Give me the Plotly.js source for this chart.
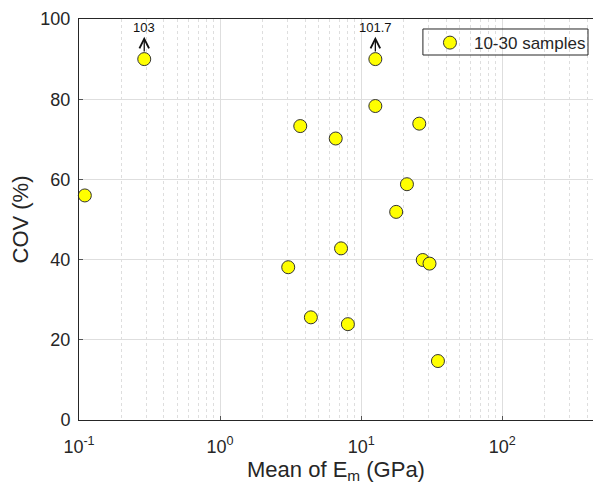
<!DOCTYPE html>
<html>
<head>
<meta charset="utf-8">
<script src="https://cdn.plot.ly/plotly-3.0.1.min.js"></script>
<style>
  html, body { margin: 0; padding: 0; background: #ffffff; }
  #chart { width: 593px; height: 492px; }
</style>
</head>
<body>
<div id="chart"></div>
<script>
// Mean deformation modulus (GPa) and its coefficient of variation (%)
const meanEm = [0.11, 0.29, 3.7, 6.6, 12.6, 12.6, 25.8, 21.1, 17.7, 7.2, 3.04, 27.3, 30.5, 4.4, 8.05, 35.0];
const covPct = [56, 90, 73.3, 70.2, 90, 78.3, 73.9, 58.8, 51.9, 42.8, 38.1, 39.9, 39.0, 25.6, 23.9, 14.7];

// Points whose true COV lies above the axis; they are plotted at the cap
const offEm = [0.29, 12.6];
const offCap = [90, 90];
const offTrue = ['103', '101.7'];

// Axis ticks
const xTickVals = [0.1, 1, 10, 100];
const xTickText = ['10<sup>-1</sup>', '10<sup>0</sup>', '10<sup>1</sup>', '10<sup>2</sup>'];
const xMinorVals = [0.2, 0.3, 0.4, 0.5, 0.6, 0.7, 0.8, 0.9,
                    2, 3, 4, 5, 6, 7, 8, 9,
                    20, 30, 40, 50, 60, 70, 80, 90,
                    200, 300, 400];
const yTickVals = [0, 20, 40, 60, 80, 100];

const ink = '#262626';
const gridCol = '#dedede';
const fontFam = 'Liberation Sans, Arial, sans-serif';

const trace = {
  x: meanEm,
  y: covPct,
  type: 'scatter',
  mode: 'markers',
  name: '10-30 samples',
  marker: { color: '#ffff00', size: 13, line: { color: '#333333', width: 1 } },
  cliponaxis: false
};

const annotations = [];
offEm.forEach((xv, i) => {
  const lx = Math.log10(xv);
  annotations.push({
    x: lx, y: 95.6, xref: 'x', yref: 'y',
    ax: lx, ay: offCap[i], axref: 'x', ayref: 'y',
    text: '', showarrow: true,
    arrowhead: 5, arrowsize: 1.45, arrowwidth: 1.3, arrowcolor: '#111111',
    startstandoff: 6
  });
  annotations.push({
    x: lx, y: 97.9, xref: 'x', yref: 'y',
    text: offTrue[i], showarrow: false,
    font: { family: fontFam, size: 13, color: '#111111' }
  });
});

const layout = {
  width: 593,
  height: 492,
  margin: { l: 79, r: 0, t: 19, b: 72 },
  paper_bgcolor: '#ffffff',
  plot_bgcolor: '#ffffff',
  font: { family: fontFam, color: ink },
  showlegend: true,
  legend: {
    x: 0.675, xanchor: 'left', y: 0.940, yanchor: 'middle',
    bgcolor: 'rgba(0,0,0,0)', borderwidth: 0,
    itemwidth: 38,
    font: { size: 17, color: ink }
  },
  // frame around the legend entry
  shapes: [{
    type: 'rect', xref: 'paper', yref: 'paper',
    x0: 0.6691, x1: 0.9903, y0: 0.9102, y1: 0.9751,
    line: { color: ink, width: 1 }, fillcolor: 'rgba(0,0,0,0)', layer: 'above'
  }],
  xaxis: {
    type: 'log',
    range: [-1, 2.643],
    tickmode: 'array',
    tickvals: xTickVals,
    ticktext: xTickText,
    tickfont: { size: 18, color: ink },
    ticks: 'inside', ticklen: 4, tickcolor: '#555555',
    ticklabelstandoff: 10,
    showline: true, linecolor: ink, linewidth: 1, mirror: true,
    showgrid: true, gridcolor: gridCol, gridwidth: 1,
    zeroline: false,
    minor: {
      tickmode: 'array', tickvals: xMinorVals,
      showgrid: true, gridcolor: gridCol, griddash: 'dot', gridwidth: 1,
      ticks: ''
    },
    title: { text: 'Mean of E<sub>m</sub> (GPa)', font: { size: 22, color: ink }, standoff: 5 }
  },
  yaxis: {
    range: [0, 100],
    tickmode: 'array',
    tickvals: yTickVals,
    tickfont: { size: 18, color: ink },
    ticks: 'inside', ticklen: 4, tickcolor: '#555555',
    ticklabelstandoff: 4,
    showline: true, linecolor: ink, linewidth: 1, mirror: true,
    showgrid: true, gridcolor: gridCol, gridwidth: 1,
    zeroline: false,
    title: { text: 'COV (%)', font: { size: 22, color: ink }, standoff: 5 }
  },
  annotations: annotations
};

Plotly.newPlot('chart', [trace], layout, { displayModeBar: false, staticPlot: true });
</script>
</body>
</html>
